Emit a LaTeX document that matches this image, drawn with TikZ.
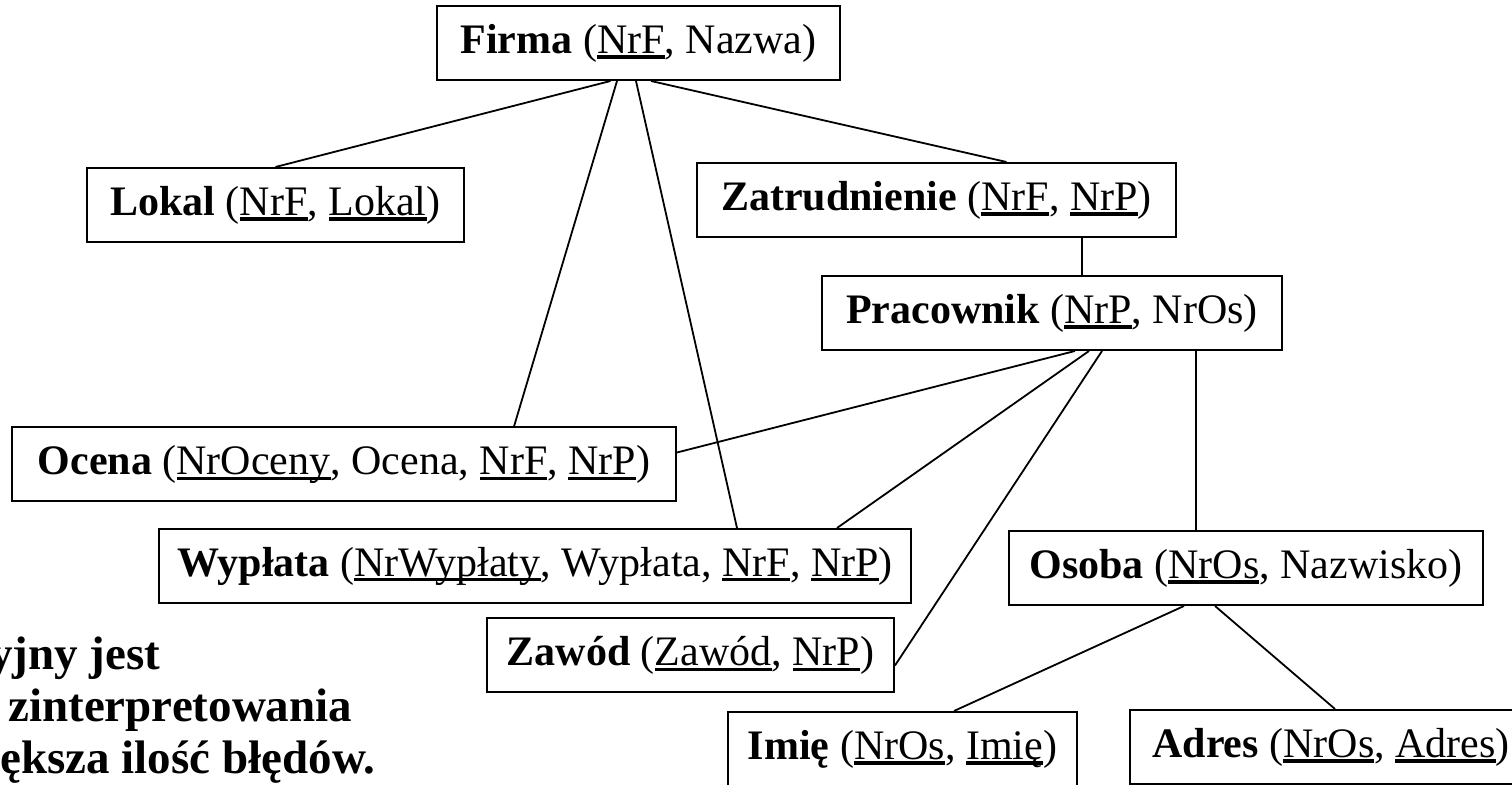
\documentclass[tikz,border=0pt]{standalone}
\usepackage{fontspec}
\setmainfont{Liberation Serif}
\usetikzlibrary{positioning,calc}
\newcommand{\klucz}[1]{\setbox0=\hbox{#1}\rlap{\rule[-0.13em]{\wd0}{0.08em}}\box0}
\tikzset{
  tabela/.style={rectangle,draw=black,line width=1pt,fill=white,
    font=\fontsize{21}{24}\selectfont,inner xsep=8pt,minimum height=37pt},
  link/.style={line width=0.9pt},
  uwaga/.style={font=\fontsize{23.5}{26}\selectfont\bfseries,align=left,inner sep=0pt}
}
\begin{document}
\begin{tikzpicture}[x=0.5pt,y=-0.5pt]
  \useasboundingbox (0,0) rectangle (1512,785);
  \node[tabela,minimum width=201.5pt] (firma) at (638.5,43)
    {\textbf{Firma} (\klucz{NrF}, Nazwa)};
  \node[tabela,minimum width=188.5pt] (lokal) at (275.5,205)
    {\textbf{Lokal} (\klucz{NrF}, \klucz{Lokal})};
  \node[tabela,minimum width=239.5pt] (zatr) at (936.5,200)
    {\textbf{Zatrudnienie} (\klucz{NrF}, \klucz{NrP})};
  \node[tabela,minimum width=230pt] (prac) at (1052,313)
    {\textbf{Pracownik} (\klucz{NrP}, NrOs)};
  \node[tabela,minimum width=332pt] (ocena) at (344,464.5)
    {\textbf{Ocena} (\klucz{NrOceny}, Ocena, \klucz{NrF}, \klucz{NrP})};
  \node[tabela,minimum width=376pt] (wyplata) at (535,566)
    {\textbf{Wypłata} (\klucz{NrWypłaty}, Wypłata, \klucz{NrF}, \klucz{NrP})};
  \node[tabela,minimum width=237pt] (osoba) at (1246,568)
    {\textbf{Osoba} (\klucz{NrOs}, Nazwisko)};
  \node[tabela,minimum width=203.5pt] (zawod) at (690.5,655.5)
    {\textbf{Zawód} (\klucz{Zawód}, \klucz{NrP})};
  \node[tabela,minimum width=174.5pt] (imie) at (902.5,749)
    {\textbf{Imię} (\klucz{NrOs}, \klucz{Imię})};
  \node[tabela,minimum width=201pt] (adres) at (1331,747)
    {\textbf{Adres} (\klucz{NrOs}, \klucz{Adres})};
  \node[uwaga,anchor=base west] (uwaga) at (-11,774)
    {yjny jest\\\hspace*{9.5pt}zinterpretowania\\\hspace*{5.5pt}ększa ilość błędów.};
  % Firma
  \draw[link] ($(firma.south)+(-28,0)$) -- (lokal.north);
  \draw[link] ($(firma.south)+(12.5,0)$) -- ($(zatr.north)+(70,0)$);
  \draw[link] ($(firma.south)+(-21.5,0)$) -- ($(ocena.north)+(170,0)$);
  \draw[link] ($(firma.south)+(-2.5,0)$) -- ($(wyplata.north)+(202,0)$);
  % Pracownik
  \draw[link] ($(zatr.south)+(145.5,0)$) -- ($(prac.north)+(30,0)$);
  \draw[link] ($(prac.south)+(23,0)$) -- ($(ocena.east)+(0,-12)$);
  \draw[link] ($(prac.south)+(37,0)$) -- ($(wyplata.north)+(302,0)$);
  \draw[link] ($(prac.south)+(50,0)$) -- ($(zawod.east)+(0,10)$);
  \draw[link] ($(prac.south)+(144,0)$) -- ($(osoba.north)+(-50,0)$);
  % Osoba
  \draw[link] ($(osoba.south)+(-62,0)$) -- ($(imie.north)+(51.5,0)$);
  \draw[link] ($(osoba.south)+(-31,0)$) -- ($(adres.north)+(4,0)$);
\end{tikzpicture}
\end{document}
